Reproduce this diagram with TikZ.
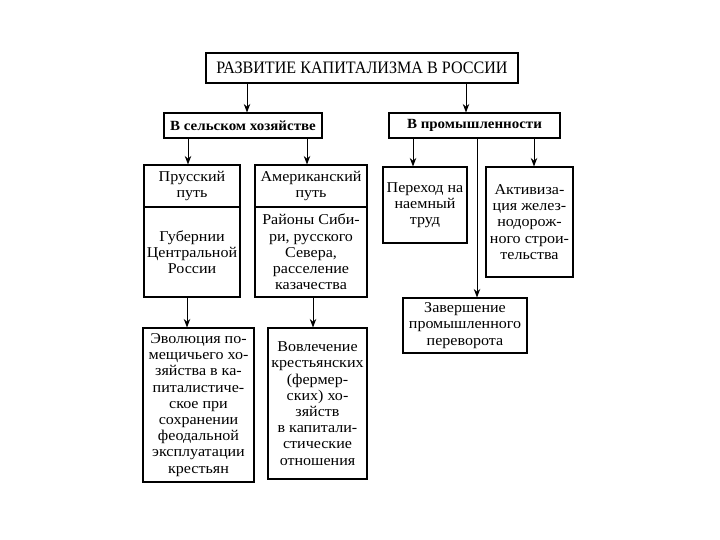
\documentclass[tikz,border=0pt]{standalone}
\usepackage{fontspec}
\setmainfont{Liberation Serif}
\newfontfamily\widefont{Liberation Serif}[FakeStretch=1.07]
\newfontfamily\titlefont{Liberation Serif}[FakeStretch=0.92]
\usetikzlibrary{arrows.meta}
\begin{document}
\begin{tikzpicture}[x=1pt,y=-1pt,
  box/.style={draw,line width=1.1pt,inner sep=0pt,align=center,
    font=\widefont\fontsize{15}{16.2}\selectfont},
  hdr/.style={box,font=\widefont\bfseries\fontsize{14}{15}\selectfont},
  ttl/.style={box,line width=1.3pt,font=\titlefont\fontsize{17.5}{19}\selectfont},
  arr/.style={line width=1pt,-{Stealth[length=8.5pt,width=6.5pt]}}]
\useasboundingbox (0,0) rectangle (720,540);
\fill[white] (0,0) rectangle (720,540);

% title and headers
\node[ttl,minimum width=312pt,minimum height=30pt] (title) at (362,68) {РАЗВИТИЕ КАПИТАЛИЗМА В РОССИИ};
\node[hdr,minimum width=158pt,minimum height=25pt] (sel) at (243,125.5) {В сельском хозяйстве};
\node[hdr,minimum width=171pt,minimum height=25pt] (prom) at (474.5,125.5) {В промышленности};

% agriculture
\node[box,minimum width=96pt,minimum height=42pt] (pruTop) at (192,186) {Прусский\\путь};
\node[box,minimum width=96pt,minimum height=90pt] (pruBot) at (192,252) {Губернии\\Центральной\\России};
\node[box,minimum width=112pt,minimum height=42pt] (amTop) at (311,186) {Американский\\путь};
\node[box,minimum width=112pt,minimum height=90pt] (amBot) at (311,252) {Районы Сиби-\\ри, русского\\Севера,\\расселение\\казачества};
\node[box,minimum width=111pt,minimum height=154pt] (evo) at (198.5,405) {Эволюция по-\\мещичьего хо-\\зяйства в ка-\\питалистиче-\\ское при\\сохранении\\феодальной\\эксплуатации\\крестьян};
\node[box,minimum width=99pt,minimum height=151pt] (vov) at (317.5,403.5) {Вовлечение\\крестьянских\\(фермер-\\ских) хо-\\зяйств\\в капитали-\\стические\\отношения};

% industry
\node[box,minimum width=84pt,minimum height=76pt] (per) at (425,205) {Переход на\\наемный\\труд};
\node[box,minimum width=87pt,minimum height=110pt] (akt) at (529.5,222) {Активиза-\\ция желез-\\нодорож-\\ного строи-\\тельства};
\node[box,minimum width=124pt,minimum height=55pt] (zav) at (465,325.5) {Завершение\\промышленного\\переворота};

% connectors
\draw[arr] (title.south -| 247,0) -- (sel.north -| 247,0);
\draw[arr] (title.south -| 466,0) -- (prom.north -| 466,0);
\draw[arr] (sel.south -| 188,0) -- (pruTop.north -| 188,0);
\draw[arr] (sel.south -| 307,0) -- (amTop.north -| 307,0);
\draw[arr] (pruBot.south -| 187,0) -- (evo.north -| 187,0);
\draw[arr] (amBot.south -| 313,0) -- (vov.north -| 313,0);
\draw[arr] (prom.south -| 413,0) -- (per.north -| 413,0);
\draw[arr] (prom.south -| 477,0) -- (zav.north -| 477,0);
\draw[arr] (prom.south -| 534,0) -- (akt.north -| 534,0);
\end{tikzpicture}
\end{document}
